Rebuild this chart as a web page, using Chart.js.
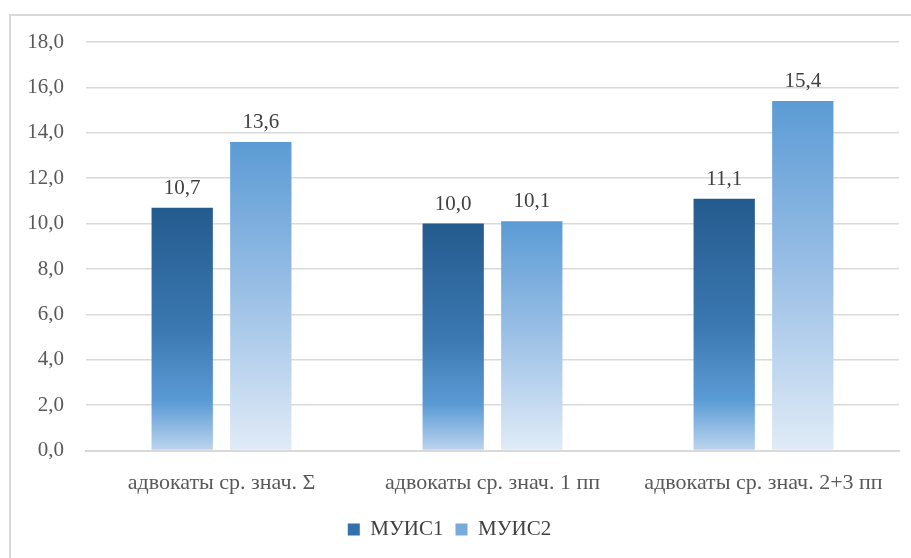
<!DOCTYPE html>
<html>
<head>
<meta charset="utf-8">
<script src="https://cdn.jsdelivr.net/npm/chart.js@4.4.1/dist/chart.umd.min.js"></script>
<style>
  html, body { margin: 0; padding: 0; background: #ffffff; width: 911px; height: 558px; overflow: hidden; }
  #frame { position: absolute; left: 9px; top: 14px; width: 930px; height: 580px; border: 2px solid #d9d9d9; box-sizing: border-box; }
  #wrap { position: absolute; left: 0; top: 0; width: 911px; height: 558px; }
</style>
</head>
<body>
<div id="frame"></div>
<div id="wrap"><canvas id="c" width="911" height="558"></canvas></div>
<script>
const categories = ['адвокаты ср. знач. Σ', 'адвокаты ср. знач. 1 пп', 'адвокаты ср. знач. 2+3 пп'];
const seriesNames = ['МУИС1', 'МУИС2'];
const muis1 = [10.7, 10.0, 11.1];
const muis2 = [13.6, 10.1, 15.4];
const yTicks = [0, 2, 4, 6, 8, 10, 12, 14, 16, 18];

const FONT = '"Liberation Serif", "Times New Roman", serif';

const gradStops = [
  [[0, '#245b8e'], [0.5, '#3b78b1'], [0.8, '#5b9bd5'], [1, '#bdd5ee']],
  [[0, '#5b9bd5'], [0.5, '#9cc0e6'], [1, '#e0ebf7']]
];
const legendColors = ['#3271ad', '#79aadc'];

function barGradient(dsIndex) {
  return function(ctx) {
    const chart = ctx.chart;
    const area = chart.chartArea;
    if (!area || ctx.type !== 'data') return legendColors[dsIndex];
    const ys = chart.scales.y;
    const v = ctx.raw;
    const top = ys.getPixelForValue(v);
    const base = ys.getPixelForValue(0);
    const g = chart.ctx.createLinearGradient(0, top, 0, base);
    gradStops[dsIndex].forEach(s => g.addColorStop(s[0], s[1]));
    return g;
  };
}

const valueLabels = {
  id: 'valueLabels',
  afterDatasetsDraw(chart) {
    const c = chart.ctx;
    c.save();
    c.font = '21px ' + FONT;
    c.fillStyle = '#404040';
    c.textAlign = 'center';
    c.textBaseline = 'bottom';
    chart.data.datasets.forEach((ds, i) => {
      const meta = chart.getDatasetMeta(i);
      meta.data.forEach((bar, j) => {
        const txt = ds.data[j].toFixed(1).replace('.', ',');
        c.fillText(txt, bar.x, bar.y - 9);
      });
    });
    c.restore();
  }
};

new Chart(document.getElementById('c'), {
  type: 'bar',
  data: {
    labels: categories,
    datasets: [
      { label: seriesNames[0], data: muis1, backgroundColor: barGradient(0) },
      { label: seriesNames[1], data: muis2, backgroundColor: barGradient(1) }
    ]
  },
  options: {
    responsive: false,
    animation: false,
    devicePixelRatio: 1,
    categoryPercentage: 0.58,
    barPercentage: 0.78,
    layout: { padding: { top: 42, right: 12, left: 0, bottom: 8 } },
    plugins: {
      tooltip: { enabled: false },
      legend: {
        position: 'bottom',
        labels: {
          font: { family: FONT, size: 21 },
          color: '#404040',
          boxWidth: 12,
          boxHeight: 12,
          padding: 12,
          generateLabels(chart) {
            return chart.data.datasets.map((ds, i) => ({
              text: ds.label,
              fillStyle: legendColors[i],
              strokeStyle: legendColors[i],
              lineWidth: 0,
              datasetIndex: i,
              fontColor: '#404040'
            }));
          }
        }
      }
    },
    scales: {
      x: {
        grid: { display: false },
        border: { display: true, color: '#d9d9d9', width: 2 },
        ticks: { font: { family: FONT, size: 22 }, color: '#595959', padding: 11, maxRotation: 0 }
      },
      y: {
        min: 0,
        max: 18,
        afterFit(scale) { scale.width = 86; },
        afterBuildTicks(scale) { scale.ticks = yTicks.map(v => ({ value: v })); },
        border: { display: false },
        grid: { color: '#d9d9d9', lineWidth: 1.5, drawTicks: false },
        ticks: {
          font: { family: FONT, size: 21 },
          color: '#595959',
          padding: 22,
          callback: v => Number(v).toFixed(1).replace('.', ',')
        }
      }
    }
  },
  plugins: [valueLabels]
});
</script>
</body>
</html>
